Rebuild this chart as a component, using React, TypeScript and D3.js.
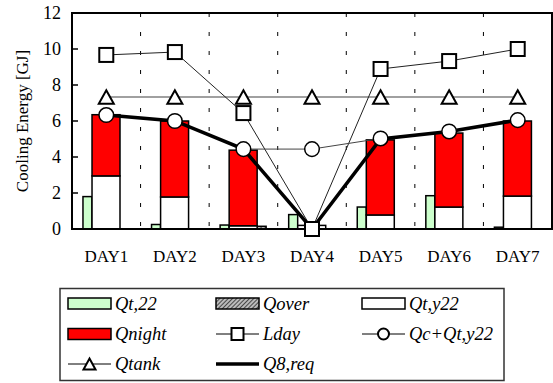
import React, { useEffect, useRef } from "react";
import * as d3 from "d3";

// categories and series (GJ)
const days = ["DAY1", "DAY2", "DAY3", "DAY4", "DAY5", "DAY6", "DAY7"];
const qt22 = [1.8, 0.25, 0.22, 0.8, 1.22, 1.85, 0.1];
const qover = [0, 0, 0.15, 0, 0, 0, 0];
const qty22 = [2.95, 1.78, 0.18, 0.2, 0.78, 1.22, 1.83];
const qnight = [3.4, 4.22, 4.2, 0, 4.17, 4.11, 4.17];
const lday = [9.67, 9.83, 6.44, 0, 8.89, 9.33, 10.0];
const qcQty22 = [6.33, 6.0, 4.44, 4.44, 5.03, 5.42, 6.05];
const qtank = [7.33, 7.33, 7.33, 7.33, 7.33, 7.33, 7.33];
const q8req = [6.33, 6.0, 4.44, 0, 5.0, 5.42, 6.05];
const yTicks = [0, 2, 4, 6, 8, 10, 12];

const FONT = "Liberation Serif, DejaVu Serif, serif";

type Pt = { i: number; v: number; base: number };

const App = () => {
  const chartRef = useRef<HTMLDivElement>(null);

  useEffect(() => {
    const width = 553;
    const height = 383;
    const plot = { left: 72, right: 552, top: 13, bottom: 229 };

    const x = d3.scaleBand<string>().domain(days).range([plot.left, plot.right]).padding(0);
    const y = d3.scaleLinear().domain([0, 12]).range([plot.bottom, plot.top]);
    const bw = x.bandwidth();
    const x0 = (i: number) => x(days[i]) as number;
    const cx = (i: number) => x0(i) + bw / 2;

    const svg = d3
      .select(chartRef.current)
      .append("svg")
      .attr("width", width)
      .attr("height", height)
      .style("display", "block");

    const defs = svg.append("defs");
    const pat = defs
      .append("pattern")
      .attr("id", "hatch")
      .attr("patternUnits", "userSpaceOnUse")
      .attr("width", 3)
      .attr("height", 3)
      .attr("patternTransform", "rotate(45)");
    pat.append("rect").attr("width", 3).attr("height", 3).attr("fill", "#bbb");
    pat.append("line").attr("x1", 0).attr("y1", 0).attr("x2", 0).attr("y2", 3).attr("stroke", "#222").attr("stroke-width", 1.5);

    // dashed separators between days
    svg
      .selectAll(".sep")
      .data(days.slice(1))
      .enter()
      .append("line")
      .attr("x1", (d) => x(d) as number)
      .attr("x2", (d) => x(d) as number)
      .attr("y1", plot.top)
      .attr("y2", plot.bottom)
      .attr("stroke", "#000")
      .attr("stroke-width", 1)
      .attr("stroke-dasharray", "4,15");

    // y ticks (inward)
    svg
      .selectAll(".ytick")
      .data(yTicks.slice(1, -1))
      .enter()
      .append("line")
      .attr("x1", plot.left)
      .attr("x2", plot.left + 6)
      .attr("y1", (d) => y(d))
      .attr("y2", (d) => y(d))
      .attr("stroke", "#000")
      .attr("stroke-width", 1.5);

    const gOff = 0.16 * bw;
    const gW = 0.131 * bw;
    const mOff = 0.292 * bw;
    const mW = 0.408 * bw;
    const oOff = mOff + mW;

    const pts = (vals: number[], base?: number[]): Pt[] =>
      vals.map((v, i) => ({ i, v, base: base ? base[i] : 0 })).filter((p) => p.v > 0);

    const bars = svg.append("g").attr("stroke", "#000").attr("stroke-width", 1.5);

    const addBars = (data: Pt[], off: number, w: number, fill: string) =>
      bars
        .append("g")
        .selectAll("rect")
        .data(data)
        .enter()
        .append("rect")
        .attr("x", (d) => x0(d.i) + off)
        .attr("width", w)
        .attr("y", (d) => y(d.base + d.v))
        .attr("height", (d) => y(d.base) - y(d.base + d.v))
        .attr("fill", fill);

    addBars(pts(qt22), gOff, gW, "#ccffcc");
    addBars(pts(qover), oOff, gW, "url(#hatch)");
    addBars(pts(qty22), mOff, mW, "#fff");
    addBars(pts(qnight, qty22), mOff, mW, "#ff0000");

    // frame
    svg
      .append("rect")
      .attr("x", plot.left)
      .attr("y", plot.top)
      .attr("width", plot.right - plot.left)
      .attr("height", plot.bottom - plot.top)
      .attr("fill", "none")
      .attr("stroke", "#000")
      .attr("stroke-width", 2);

    const line = d3
      .line<number>()
      .x((d, i) => cx(i))
      .y((d) => y(d));

    svg.append("path").datum(qtank).attr("d", line).attr("fill", "none").attr("stroke", "#808080").attr("stroke-width", 1.6);
    svg.append("path").datum(lday).attr("d", line).attr("fill", "none").attr("stroke", "#222").attr("stroke-width", 1);
    svg.append("path").datum(qcQty22).attr("d", line).attr("fill", "none").attr("stroke", "#444").attr("stroke-width", 1);
    svg.append("path").datum(q8req).attr("d", line).attr("fill", "none").attr("stroke", "#000").attr("stroke-width", 3.5);

    const tri = (s: number) => `M0,${-s * 0.45} L${s / 2},${s * 0.45} L${-s / 2},${s * 0.45} Z`;

    svg
      .selectAll(".tri")
      .data(qtank)
      .enter()
      .append("path")
      .attr("d", tri(15))
      .attr("transform", (d, i) => `translate(${cx(i)},${y(d)})`)
      .attr("fill", "#fff")
      .attr("stroke", "#000")
      .attr("stroke-width", 2);

    svg
      .selectAll(".sq")
      .data(lday)
      .enter()
      .append("rect")
      .attr("x", (d, i) => cx(i) - 7)
      .attr("y", (d) => y(d) - 7)
      .attr("width", 14)
      .attr("height", 14)
      .attr("fill", "#fff")
      .attr("stroke", "#000")
      .attr("stroke-width", 2);

    svg
      .selectAll(".circ")
      .data(qcQty22)
      .enter()
      .append("circle")
      .attr("cx", (d, i) => cx(i))
      .attr("cy", (d) => y(d))
      .attr("r", 7.3)
      .attr("fill", "#fff")
      .attr("stroke", "#000")
      .attr("stroke-width", 1.5);

    // axis labels
    svg
      .selectAll(".ylab")
      .data(yTicks)
      .enter()
      .append("text")
      .attr("x", 61)
      .attr("y", (d) => y(d))
      .attr("dy", "0.35em")
      .attr("text-anchor", "end")
      .attr("font-family", FONT)
      .attr("font-size", 18)
      .text((d) => d);

    svg
      .selectAll(".xlab")
      .data(days)
      .enter()
      .append("text")
      .attr("x", (d) => (x(d) as number) + bw / 2)
      .attr("y", 262)
      .attr("text-anchor", "middle")
      .attr("font-family", FONT)
      .attr("font-size", 17)
      .text((d) => d);

    svg
      .append("text")
      .attr("transform", `translate(28,121) rotate(-90)`)
      .attr("text-anchor", "middle")
      .attr("font-family", FONT)
      .attr("font-size", 17)
      .text("Cooling Energy [GJ]");

    // legend
    const lg = svg.append("g");
    lg.append("rect")
      .attr("x", 60)
      .attr("y", 288.5)
      .attr("width", 444)
      .attr("height", 92)
      .attr("fill", "#fff")
      .attr("stroke", "#333")
      .attr("stroke-width", 1.5);

    const cols = [68, 216, 362];
    const rows = [303.5, 334, 364];
    const sw = 43;

    const items = [
      { label: "Qt,22", kind: "rect", fill: "#ccffcc" },
      { label: "Qover", kind: "rect", fill: "url(#hatch)" },
      { label: "Qt,y22", kind: "rect", fill: "#fff" },
      { label: "Qnight", kind: "rect", fill: "#ff0000" },
      { label: "Lday", kind: "square" },
      { label: "Qc+Qt,y22", kind: "circle" },
      { label: "Qtank", kind: "tri" },
      { label: "Q8,req", kind: "thick" },
    ];

    items.forEach((it, k) => {
      const lx = cols[k % 3];
      const ly = rows[Math.floor(k / 3)];
      const g = lg.append("g");
      if (it.kind === "rect") {
        g.append("rect")
          .attr("x", lx)
          .attr("y", ly - 5.5)
          .attr("width", sw)
          .attr("height", 11)
          .attr("fill", it.fill as string)
          .attr("stroke", "#000")
          .attr("stroke-width", 1.5);
      } else if (it.kind === "thick") {
        g.append("line").attr("x1", lx).attr("x2", lx + sw).attr("y1", ly).attr("y2", ly).attr("stroke", "#000").attr("stroke-width", 3.5);
      } else {
        g.append("line").attr("x1", lx).attr("x2", lx + sw).attr("y1", ly).attr("y2", ly).attr("stroke", "#000").attr("stroke-width", 1);
        const m = lx + sw / 2;
        if (it.kind === "square") {
          g.append("rect").attr("x", m - 6).attr("y", ly - 6).attr("width", 12).attr("height", 12).attr("fill", "#fff").attr("stroke", "#000").attr("stroke-width", 2);
        } else if (it.kind === "circle") {
          g.append("circle").attr("cx", m).attr("cy", ly).attr("r", 5.5).attr("fill", "#fff").attr("stroke", "#000").attr("stroke-width", 2);
        } else {
          g.append("path").attr("d", tri(12)).attr("transform", `translate(${m},${ly})`).attr("fill", "#fff").attr("stroke", "#000").attr("stroke-width", 2);
        }
      }
      g.append("text")
        .attr("x", lx + sw + 4)
        .attr("y", ly)
        .attr("dy", "0.35em")
        .attr("font-family", FONT)
        .attr("font-size", 18.5)
        .attr("font-style", "italic")
        .text(it.label);
    });

    return () => {
      svg.remove();
    };
  }, []);

  return <div ref={chartRef} style={{ position: "absolute", left: 0, top: 0 }}></div>;
};

export default App;
